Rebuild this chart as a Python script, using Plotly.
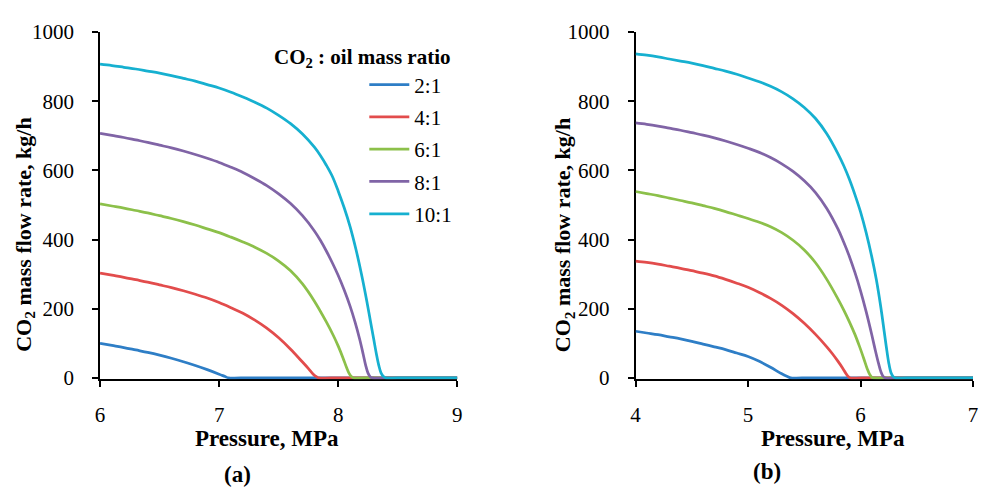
import plotly.graph_objects as go

W, H = 982, 488

ratios = ["2:1", "4:1", "6:1", "8:1", "10:1"]
colors = ["#2E7EC6", "#E24C4C", "#8CC04A", "#8064A6", "#16B0D0"]

# Panel (a): pressure 6-9 MPa, CO2 mass flow rate kg/h
a_x = [
    [6.0, 6.1, 6.2, 6.3, 6.4, 6.5, 6.6, 6.7, 6.8, 6.9, 7.0, 7.05, 7.08, 7.18, 9.0],
    [6.0, 6.1, 6.2, 6.3, 6.4, 6.5, 6.6, 6.7, 6.8, 6.9, 7.0, 7.1, 7.2, 7.3, 7.4, 7.5, 7.6, 7.7, 7.75, 7.79, 7.82, 7.84, 7.94, 9.0],
    [6.0, 6.1, 6.2, 6.3, 6.4, 6.5, 6.6, 6.7, 6.8, 6.9, 7.0, 7.1, 7.2, 7.3, 7.4, 7.5, 7.6, 7.7, 7.8, 7.9, 7.96, 8.0, 8.04, 8.07, 8.09, 8.11, 8.13, 8.23, 9.0],
    [6.0, 6.1, 6.2, 6.3, 6.4, 6.5, 6.6, 6.7, 6.8, 6.9, 7.0, 7.1, 7.2, 7.3, 7.4, 7.5, 7.6, 7.7, 7.8, 7.85, 7.9, 7.95, 8.0, 8.05, 8.1, 8.14, 8.18, 8.21, 8.23, 8.25, 8.27, 8.29, 8.39, 9.0],
    [6.0, 6.1, 6.2, 6.3, 6.4, 6.5, 6.6, 6.7, 6.8, 6.9, 7.0, 7.1, 7.2, 7.3, 7.4, 7.5, 7.6, 7.7, 7.8, 7.85, 7.9, 7.95, 8.0, 8.05, 8.1, 8.15, 8.2, 8.24, 8.27, 8.30, 8.32, 8.34, 8.36, 8.38, 8.40, 8.5, 9.0],
]
a_y = [
    [100, 94, 88, 81, 74, 66, 57, 47, 36, 24, 11, 4, 0, 0, 0],
    [303, 297, 291, 284, 277, 269, 261, 252, 242, 231, 218, 203, 187, 167, 144, 116, 83, 46, 27, 11, 3, 0, 0, 0],
    [503, 497, 491, 484, 477, 469, 461, 452, 442, 431, 420, 407, 393, 378, 360, 338, 310, 272, 222, 162, 122, 92, 58, 30, 14, 4, 0, 0, 0],
    [707, 701, 695, 688, 681, 673, 665, 656, 646, 635, 623, 609, 594, 576, 556, 532, 504, 469, 425, 398, 367, 333, 296, 254, 207, 163, 112, 68, 37, 14, 3, 0, 0, 0],
    [907, 903, 898, 893, 887, 881, 874, 866, 858, 848, 838, 826, 812, 797, 780, 759, 735, 705, 667, 643, 615, 583, 540, 492, 437, 370, 292, 222, 165, 108, 70, 37, 14, 4, 0, 0, 0],
]

# Panel (b): pressure 4-7 MPa, CO2 mass flow rate kg/h
b_x = [
    [4.0, 4.1, 4.2, 4.3, 4.4, 4.5, 4.6, 4.7, 4.8, 4.9, 5.0, 5.1, 5.2, 5.3, 5.35, 5.38, 5.48, 7.0],
    [4.0, 4.1, 4.2, 4.3, 4.4, 4.5, 4.6, 4.7, 4.8, 4.9, 5.0, 5.1, 5.2, 5.3, 5.4, 5.5, 5.6, 5.7, 5.75, 5.8, 5.84, 5.87, 5.89, 5.91, 6.01, 7.0],
    [4.0, 4.1, 4.2, 4.3, 4.4, 4.5, 4.6, 4.7, 4.8, 4.9, 5.0, 5.1, 5.2, 5.3, 5.4, 5.5, 5.6, 5.7, 5.8, 5.85, 5.9, 5.95, 5.99, 6.03, 6.06, 6.08, 6.10, 6.12, 6.22, 7.0],
    [4.0, 4.1, 4.2, 4.3, 4.4, 4.5, 4.6, 4.7, 4.8, 4.9, 5.0, 5.1, 5.2, 5.3, 5.4, 5.5, 5.6, 5.7, 5.8, 5.85, 5.9, 5.95, 6.0, 6.05, 6.1, 6.13, 6.16, 6.18, 6.20, 6.22, 6.32, 7.0],
    [4.0, 4.1, 4.2, 4.3, 4.4, 4.5, 4.6, 4.7, 4.8, 4.9, 5.0, 5.1, 5.2, 5.3, 5.4, 5.5, 5.6, 5.7, 5.8, 5.85, 5.9, 5.95, 6.0, 6.05, 6.1, 6.14, 6.18, 6.21, 6.23, 6.25, 6.27, 6.29, 6.31, 6.41, 7.0],
]
b_y = [
    [135, 130, 125, 119, 113, 106, 98, 90, 82, 72, 62, 48, 31, 12, 4, 0, 0, 0],
    [338, 334, 329, 323, 317, 310, 303, 295, 285, 274, 262, 247, 230, 210, 186, 158, 126, 90, 70, 48, 29, 13, 4, 0, 0, 0],
    [539, 533, 527, 520, 513, 506, 498, 490, 481, 471, 461, 450, 437, 420, 398, 370, 333, 285, 228, 197, 163, 126, 92, 55, 26, 11, 2, 0, 0, 0],
    [737, 733, 728, 722, 716, 709, 702, 694, 685, 675, 664, 652, 637, 619, 597, 570, 536, 490, 430, 393, 352, 305, 252, 192, 125, 82, 42, 19, 5, 0, 0, 0],
    [937, 933, 928, 922, 916, 910, 903, 895, 887, 878, 867, 856, 843, 827, 807, 782, 750, 706, 648, 614, 575, 530, 480, 420, 350, 285, 205, 135, 88, 45, 16, 4, 0, 0, 0],
]

x_ticks_a = [6, 7, 8, 9]
x_ticks_b = [4, 5, 6, 7]
y_ticks = [0, 200, 400, 600, 800, 1000]

FONT = "Liberation Serif"

fig = go.Figure()
for i, r in enumerate(ratios):
    fig.add_trace(go.Scatter(
        x=a_x[i], y=a_y[i], mode="lines", name=r,
        line=dict(color=colors[i], width=2.75, shape="spline", smoothing=1.0),
        xaxis="x", yaxis="y", legendgroup=r, showlegend=True))
for i, r in enumerate(ratios):
    fig.add_trace(go.Scatter(
        x=b_x[i], y=b_y[i], mode="lines", name=r,
        line=dict(color=colors[i], width=2.75, shape="spline", smoothing=1.0),
        xaxis="x2", yaxis="y2", legendgroup=r, showlegend=False))

def px2x(p):
    return p / W

def px2y(p):
    return 1 - p / H

ydom = [0.2100, 0.9570]
axis_common = dict(
    showline=True, linecolor="black", linewidth=1.5, ticks="outside",
    ticklen=6, tickwidth=1.5, tickcolor="black", showgrid=False, zeroline=False,
    tickfont=dict(family=FONT, size=21, color="black"), layer="below traces",
)

fig.update_layout(
    width=W, height=H,
    margin=dict(l=0, r=0, t=0, b=0),
    paper_bgcolor="white", plot_bgcolor="white",
    font=dict(family=FONT, color="black"),
    xaxis=dict(domain=[px2x(96), px2x(457)], range=[6, 9], tickvals=x_ticks_a,
               anchor="y", ticklabelstandoff=10, **axis_common),
    yaxis=dict(domain=ydom, range=[-4, 1000], tickvals=y_ticks, anchor="x",
               ticklabelstandoff=14, **axis_common),
    xaxis2=dict(domain=[px2x(637), px2x(978)], range=[4, 7], tickvals=x_ticks_b,
                anchor="y2", ticklabelstandoff=10, **axis_common),
    yaxis2=dict(domain=ydom, range=[-4, 1000], tickvals=y_ticks, anchor="x2",
                ticklabelstandoff=14, **axis_common),
    legend=dict(x=px2x(363), y=px2y(55), xanchor="left", yanchor="top",
                font=dict(family=FONT, size=21, color="black"),
                bgcolor="rgba(0,0,0,0)", tracegroupgap=2, itemwidth=40),
)

ann = [
    dict(text="<b>Pressure, MPa</b>", x=px2x(265), y=px2y(448), size=23),
    dict(text="<b>Pressure, MPa</b>", x=px2x(837), y=px2y(448), size=23),
    dict(text="<b>(a)</b>", x=px2x(235), y=px2y(485), size=23),
    dict(text="<b>(b)</b>", x=px2x(770), y=px2y(482), size=23),
    dict(text="<b>CO<sub>2</sub> : oil mass ratio</b>", x=px2x(361), y=px2y(48), size=21),
]
for a in ann:
    fig.add_annotation(text=a["text"], x=a["x"], y=a["y"], xref="paper", yref="paper",
                       showarrow=False, xanchor="center", yanchor="middle",
                       font=dict(family=FONT, size=a["size"], color="black"))
for xc in (20, 565):
    fig.add_annotation(text="<b>CO<sub>2</sub> mass flow rate, kg/h</b>", x=px2x(xc), y=px2y(234),
                       xref="paper", yref="paper", showarrow=False, textangle=-90,
                       xanchor="center", yanchor="middle",
                       font=dict(family=FONT, size=22, color="black"))

fig.write_html("out.html")
